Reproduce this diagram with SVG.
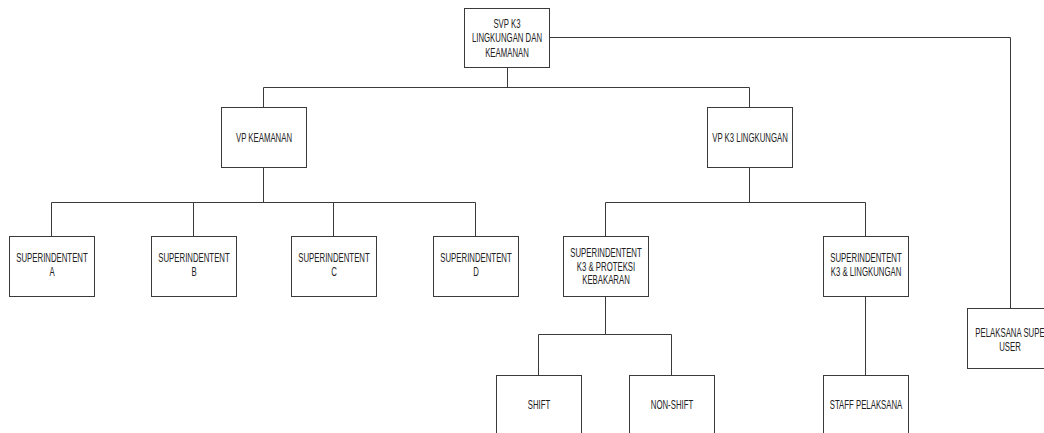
<svg xmlns="http://www.w3.org/2000/svg" width="1044" height="433" viewBox="0 0 1044 433">
<style>
.box{fill:#ffffff;stroke:#3a3a3a;stroke-width:1}
.ln{fill:none;stroke:#3a3a3a;stroke-width:1}
.t{font-family:"Liberation Sans",Arial,sans-serif;font-size:12px;fill:#222222;text-anchor:middle}
</style>
<rect width="1044" height="433" fill="#ffffff"/>
<g id="connectors">
<path class="ln" d="M549.5,37.5H1010.5V308.5"/>
<path class="ln" d="M507.5,67.5V87.5M263.5,87.5H749.5M263.5,87.5V107.5M749.5,87.5V107.5"/>
<path class="ln" d="M263.5,167.5V202.5M51.5,202.5H475.5M51.5,202.5V236.5M193.5,202.5V236.5M333.5,202.5V236.5M475.5,202.5V236.5"/>
<path class="ln" d="M749.5,167.5V202.5M605.5,202.5H865.5M605.5,202.5V236.5M865.5,202.5V236.5"/>
<path class="ln" d="M605.5,296.5V334.5M538.5,334.5H671.5M538.5,334.5V375.5M671.5,334.5V375.5"/>
<path class="ln" d="M865.5,296.5V375.5"/>
</g>
<g id="svp">
<rect class="box" x="464.5" y="8.5" width="85" height="59"/>
<text class="t" transform="translate(507,27.5) scale(0.65,1)">SVP K3</text>
<text class="t" transform="translate(507,42) scale(0.65,1)">LINGKUNGAN DAN</text>
<text class="t" transform="translate(507,57) scale(0.65,1)">KEAMANAN</text>
</g>
<g id="vp-keamanan">
<rect class="box" x="221.5" y="107.5" width="85" height="60"/>
<text class="t" transform="translate(264,141.5) scale(0.65,1)">VP KEAMANAN</text>
</g>
<g id="vp-k3-lingkungan">
<rect class="box" x="707.5" y="107.5" width="85" height="60"/>
<text class="t" transform="translate(750,141.5) scale(0.65,1)">VP K3 LINGKUNGAN</text>
</g>
<g id="sup-a">
<rect class="box" x="9.5" y="236.5" width="85" height="60"/>
<text class="t" transform="translate(52,262) scale(0.65,1)">SUPERINDENTENT</text>
<text class="t" transform="translate(52,276) scale(0.65,1)">A</text>
</g>
<g id="sup-b">
<rect class="box" x="151.5" y="236.5" width="85" height="60"/>
<text class="t" transform="translate(194,262) scale(0.65,1)">SUPERINDENTENT</text>
<text class="t" transform="translate(194,276) scale(0.65,1)">B</text>
</g>
<g id="sup-c">
<rect class="box" x="291.5" y="236.5" width="85" height="60"/>
<text class="t" transform="translate(334,262) scale(0.65,1)">SUPERINDENTENT</text>
<text class="t" transform="translate(334,276) scale(0.65,1)">C</text>
</g>
<g id="sup-d">
<rect class="box" x="433.5" y="236.5" width="85" height="60"/>
<text class="t" transform="translate(476,262) scale(0.65,1)">SUPERINDENTENT</text>
<text class="t" transform="translate(476,276) scale(0.65,1)">D</text>
</g>
<g id="sup-k3-proteksi">
<rect class="box" x="563.5" y="236.5" width="85" height="60"/>
<text class="t" transform="translate(606,257) scale(0.65,1)">SUPERINDENTENT</text>
<text class="t" transform="translate(606,270.5) scale(0.65,1)">K3 &amp; PROTEKSI</text>
<text class="t" transform="translate(606,284) scale(0.65,1)">KEBAKARAN</text>
</g>
<g id="sup-k3-lingkungan">
<rect class="box" x="823.5" y="236.5" width="85" height="60"/>
<text class="t" transform="translate(866,262) scale(0.65,1)">SUPERINDENTENT</text>
<text class="t" transform="translate(866,276) scale(0.65,1)">K3 &amp; LINGKUNGAN</text>
</g>
<g id="shift">
<rect class="box" x="496.5" y="375.5" width="85" height="60"/>
<text class="t" transform="translate(539,409) scale(0.65,1)">SHIFT</text>
</g>
<g id="non-shift">
<rect class="box" x="629.5" y="375.5" width="85" height="60"/>
<text class="t" transform="translate(672,409) scale(0.65,1)">NON-SHIFT</text>
</g>
<g id="staff-pelaksana">
<rect class="box" x="823.5" y="375.5" width="85" height="60"/>
<text class="t" transform="translate(866,409) scale(0.65,1)">STAFF PELAKSANA</text>
</g>
<g id="pelaksana-super-user">
<rect class="box" x="967.5" y="308.5" width="85" height="60"/>
<text class="t" transform="translate(1010,336.5) scale(0.65,1)">PELAKSANA SUPE</text>
<text class="t" transform="translate(1010,350.5) scale(0.65,1)">USER</text>
</g>
</svg>
